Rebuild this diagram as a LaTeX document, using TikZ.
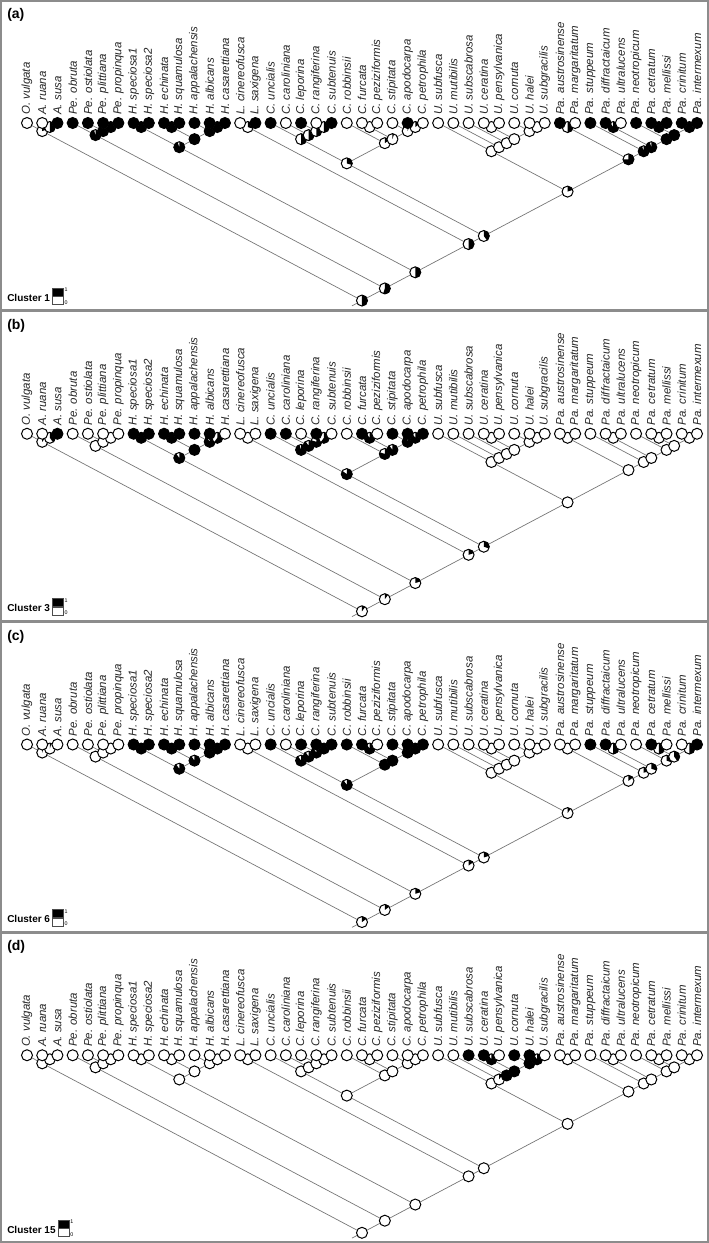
\documentclass[tikz,border=0pt]{standalone}
\usepackage{fontspec}
\setmainfont{Liberation Sans}
\usetikzlibrary{positioning}

\tikzset{
  branch/.style={draw=black!55, line width=0.5pt},
  panelframe/.style={draw=black!45, line width=1.3pt},
  taxon/.style={rotate=90, anchor=west, inner sep=0pt, text=black!85,
    font=\itshape\fontsize{8.6}{9}\selectfont},
  panelname/.style={anchor=west, inner sep=0pt, font=\bfseries\fontsize{10.5}{12}\selectfont},
  clustername/.style={anchor=base west, inner sep=0pt, font=\bfseries\fontsize{7.5}{9}\selectfont},
  keybox/.style={draw=black!70, line width=0.3pt, minimum width=8pt, minimum height=6pt, inner sep=0pt},
  keytext/.style={inner sep=0pt, font=\fontsize{4}{4}\selectfont},
}

\newcommand\pier{5.5}

% taxa, left to right
\newcommand\taxa{O. vulgata, A. ruana, A. susa, Pe. obruta, Pe. ostiolata, Pe. plittiana,
  Pe. propinqua, H. speciosa1, H. speciosa2, H. echinata, H. squamulosa, H. appalachensis,
  H. albicans, H. casarettiana, L. cinereofusca, L. saxigena, C. uncialis, C. caroliniana,
  C. leporina, C. rangiferina, C. subtenuis, C. robbinsii, C. furcata, C. peziziformis,
  C. stipitata, C. apodocarpa, C. petrophila, U. subfusca, U. mutibilis, U. subscabrosa,
  U. ceratina, U. pensylvanica, U. cornuta, U. halei, U. subgracilis, Pa. austrosinense,
  Pa. margaritatum, Pa. stuppeum, Pa. diffractaicum, Pa. ultralucens, Pa. neotropicum,
  Pa. cetratum, Pa. mellissi, Pa. crinitum, Pa. intermexum}

% clades: first tip / last tip of left child / last tip
\newcommand\clades{1/3/45, 1/1/3, 2/2/3, 4/7/45, 4/4/7, 5/5/7, 6/6/7,
  8/14/45, 8/9/14, 8/8/9, 10/11/14, 10/10/11, 12/12/14, 13/13/14,
  15/16/45, 15/15/16, 17/27/45, 17/21/27, 17/17/21, 18/18/21, 19/19/21, 20/20/21,
  22/22/27, 23/24/27, 23/23/24, 25/25/27, 26/26/27,
  28/35/45, 28/28/35, 29/29/35, 30/30/35, 31/32/35, 31/31/32, 33/33/35, 34/34/35,
  36/37/45, 36/36/37, 38/38/45, 39/40/45, 39/39/40, 41/41/45, 42/43/45, 42/42/43, 44/44/45}

% states of the tips (1 = black)
\newcommand\tipsA{0,0,1,1,1,1,1,1,1,1,1,1,1,1,0,1,1,0,1,0,1,0,0,0,0,1,0,
  0,0,0,0,0,0,0,0,1,0,1,1,0,1,1,1,1,1}
\newcommand\tipsB{0,0,1,0,0,0,0,1,1,1,1,1,1,0,0,0,1,1,0,1,0,0,1,0,1,1,1,
  0,0,0,0,0,0,0,0,0,0,0,0,0,0,0,0,0,0}
\newcommand\tipsC{0,0,0,0,0,0,0,1,1,1,1,1,1,1,0,0,1,0,1,1,1,1,1,0,1,1,1,
  0,0,0,0,0,0,0,0,0,0,1,1,0,0,1,0,0,1}
\newcommand\tipsD{0,0,0,0,0,0,0,0,0,0,0,0,0,0,0,0,0,0,0,0,0,0,0,0,0,0,0,
  0,0,1,1,0,1,1,0,0,0,0,0,0,0,0,0,0,0}

% black share of each ancestral pie, in the order of \clades
\newcommand\fracsA{0.5,0.2,0.5,0.55,0.95,1,1,0.5,0.95,1,1,1,1,1,0.5,0.3,0.4,0.3,0.5,0.5,0.5,0.5,
  0.15,0.05,0,0.05,0.15,0.2,0,0,0,0,0,0,0,0.75,0.5,0.95,0.95,0.9,1,1,1,1}
\newcommand\fracsB{0.1,0.1,0.4,0.1,0,0,0,0.2,0.9,1,1,1,0.9,0.6,0.2,0,0.3,0.85,0.95,0.9,0.8,0.6,
  0.8,0.9,0.9,0.95,0.9,0,0,0,0,0,0,0,0,0,0,0,0,0,0,0,0,0}
\newcommand\fracsC{0.15,0.05,0.05,0.15,0,0,0,0.2,0.9,1,0.9,1,1,1,0.15,0,0.2,0.9,0.9,0.9,0.9,1,
  1,1,0.9,1,1,0.1,0,0,0,0,0,0,0,0.15,0,0.2,0.3,0.5,0.3,0.4,0.5,0.5}
\newcommand\fracsD{0,0,0,0,0,0,0,0,0,0,0,0,0,0,0,0,0,0,0,0,0,0,
  0,0,0,0,0,0,0,0.1,1,1,0.9,1,0.9,0,0,0,0,0,0,0,0,0}

% pie at a named coordinate: #1 name, #2 black share
\newcommand\pienode[2]{%
  \fill[white] (#1) circle[radius=\pier];
  \ifdim#2pt>0.001pt
    \fill[black] (#1) -- ++(-90:\pier) arc[start angle=-90, delta angle={360*#2}, radius=\pier] -- cycle;
  \fi
  \draw[line width=0.75pt] (#1) circle[radius=\pier];
}

% one panel: #1 top, #2 letter, #3 cluster, #4 tips, #5 pies
\newcommand\drawpanel[5]{%
\begin{scope}[shift={(0,#1)}]
  \draw[panelframe] (0.65,0.65) rectangle (708.35,310.1);
  \node[panelname] (lab#2) at (7,15) {(#2)};

  % tips and names
  \foreach \tx [count=\i] in \taxa {
    \coordinate (t\i) at ({27+15.227*(\i-1)},123);
    \node[taxon] (n\i) at ({27+15.227*(\i-1)},115) {\tx};
  }

  % ancestral nodes
  \foreach \i/\k/\j in \clades
    \coordinate (c\i-\j) at ({27+15.227*(\i+\j-2)/2},{123+0.53*15.227*(\j-\i)/2});

  % branches
  \foreach \i/\k/\j in \clades {
    \pgfmathtruncatemacro\kk{\k+1}
    \ifnum\i=\k \edef\lc{t\i}\else\edef\lc{c\i-\k}\fi
    \ifnum\kk=\j \edef\rc{t\j}\else\edef\rc{c\kk-\j}\fi
    \draw[branch] (c\i-\j) -- (\lc) (c\i-\j) -- (\rc);
  }
  \draw[branch] (c1-45) -- ++(-10,5.3);

  % pies
  \foreach \i/\k/\j [count=\n] in \clades {
    \pgfmathsetmacro\frc{{#5}[\n-1]}
    \pienode{c\i-\j}{\frc}
  }
  \foreach \s [count=\i] in #4 {
    \pienode{t\i}{\s}
  }

  % key
  \node[clustername] (cl#2) at (7,301) {Cluster #3};
  \node[keybox, fill=black, anchor=south west] (kb#2) at ([xshift=1.5pt, yshift=3.75pt]cl#2.base east) {};
  \node[keybox, fill=white, below=0pt of kb#2] (kw#2) {};
  \node[keytext, anchor=north west] at ([xshift=0.8pt]kb#2.north east) {1};
  \node[keytext, anchor=south west] at ([xshift=0.8pt]kw#2.south east) {0};
\end{scope}}

\begin{document}
\begin{tikzpicture}[x=0.75pt, y=-0.75pt]
  \useasboundingbox (0,0) rectangle (709,1243);
  \fill[white] (0,0) rectangle (709,1243);

  \drawpanel{0}{a}{1}{\tipsA}{\fracsA}
  \drawpanel{310.75}{b}{3}{\tipsB}{\fracsB}
  \drawpanel{621.5}{c}{6}{\tipsC}{\fracsC}
  \drawpanel{932.25}{d}{15}{\tipsD}{\fracsD}
\end{tikzpicture}
\end{document}
